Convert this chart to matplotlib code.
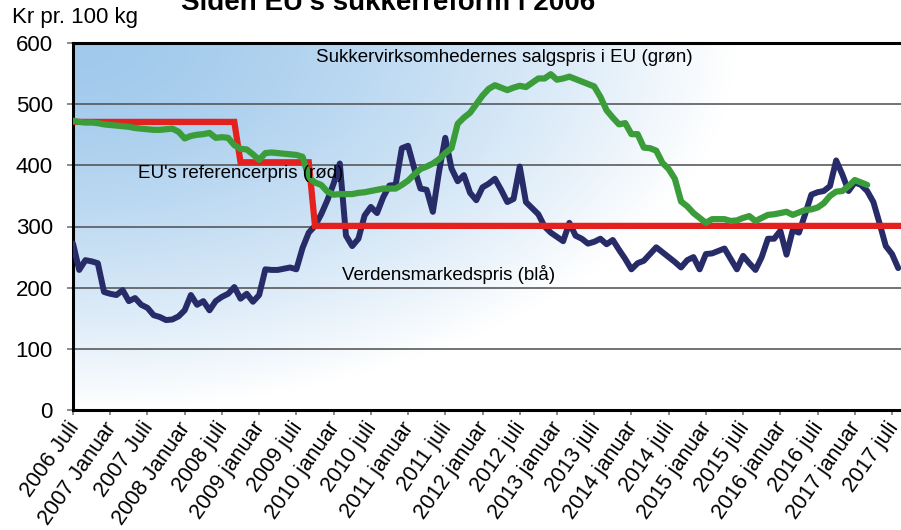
import numpy as np
import matplotlib
matplotlib.use("Agg")
import matplotlib.pyplot as plt
from matplotlib.colors import to_rgb
from matplotlib.transforms import ScaledTranslation

plt.rcParams['font.family'] = ['Liberation Sans', 'DejaVu Sans']

# Månedlige værdier, 2006 juli = måned 0
verdensmarked = [272, 229, 245, 243, 240, 193, 190, 188, 196, 178,
                 183, 172, 167, 155, 152, 147, 148, 153, 163, 188,
                 172, 178, 163, 178, 185, 190, 201, 182, 190, 177,
                 188, 230, 229, 229, 231, 233, 230, 265, 290, 301,
                 320, 343, 370, 403, 285, 268, 280, 318, 332, 322,
                 348, 367, 368, 428, 432, 395, 362, 360, 324, 390,
                 445, 395, 374, 384, 355, 343, 364, 370, 378, 360,
                 340, 345, 398, 340, 330, 320, 300, 290, 283, 276,
                 306, 285, 280, 272, 275, 280, 271, 278, 262, 247,
                 230, 240, 244, 255, 266, 258, 250, 242, 233, 245,
                 250, 230, 255, 256, 260, 264, 247, 230, 252, 240,
                 229, 250, 280, 280, 293, 254, 294, 290, 320, 352,
                 356, 358, 366, 408, 385, 358, 372, 368, 358, 340,
                 305, 268, 255, 232]

salgspris = [473, 471, 470, 470, 469, 467, 466, 465, 464, 463,
             461, 460, 459, 458, 458, 459, 460, 455, 444, 448,
             450, 451, 453, 445, 446, 445, 433, 427, 426, 418,
             409, 420, 421, 420, 419, 418, 417, 414, 380, 372,
             368, 357, 352, 353, 353, 353, 355, 356, 358, 360,
             362, 362, 362, 368, 375, 385, 394, 398, 403, 410,
             420, 428, 468, 478, 486, 500, 514, 525, 531, 527,
             523, 527, 530, 528, 535, 542, 542, 549, 540, 542,
             545, 541, 537, 533, 529, 512, 490, 478, 467, 469,
             451, 451, 429, 428, 424, 404, 394, 378, 341, 333,
             322, 314, 306, 312, 312, 312, 309, 310, 314, 317,
             309, 314, 319, 320, 322, 324, 319, 323, 327, 328,
             331, 338, 350, 357, 358, 366, 376, 372, 368]

referencepris = [471] * 27 + [405] * 12 + [301] * 95

tick_labels = ["2006 Juli", "2007 Januar", "2007 Juli", "2008 Januar", "2008 juli",
               "2009 januar", "2009 juli", "2010 januar", "2010 juli", "2011 januar",
               "2011 juli", "2012 januar", "2012 juli", "2013 januar", "2013 juli",
               "2014 januar", "2014 juli", "2015 januar", "2015 juli", "2016 januar",
               "2016 juli", "2017 januar", "2017 juli"]

fig = plt.figure(figsize=(9.01, 5.30), dpi=100)
ax = fig.add_axes([73 / 901, 1 - 410 / 530, 1 - 73 / 901, 367 / 530])

# baggrund med blå gradient fra øverste venstre hjørne
nx, ny = 300, 200
gx, gy = np.meshgrid(np.linspace(0, 1, nx), np.linspace(0, 1, ny))
t = np.clip(np.sqrt((gx / 0.80) ** 2 + (gy / 1.0) ** 2), 0, 1) ** 1.5
c0 = np.array(to_rgb("#a0c9ec"))
c1 = np.array(to_rgb("#ffffff"))
img = c0[None, None, :] * (1 - t[..., None]) + c1[None, None, :] * t[..., None]
ax.imshow(img, extent=[0, 1, 0, 1], transform=ax.transAxes, aspect='auto',
          zorder=0, origin='upper')

for v in range(100, 600, 100):
    ax.axhline(v, color="#4d4d4d", lw=1.1, zorder=1)

m_blue = np.arange(len(verdensmarked))
m_green = np.arange(len(salgspris))
m_red = np.arange(len(referencepris))

ax.plot(m_blue, verdensmarked, color="#272c68", lw=4.3, zorder=3,
        solid_joinstyle='round', solid_capstyle='round')
ax.plot(m_red, referencepris, color="#e3221f", lw=4.5, zorder=4,
        solid_joinstyle='miter')
ax.plot(m_green, salgspris, color="#3a9d3a", lw=4.5, zorder=5,
        solid_joinstyle='round', solid_capstyle='round')

ax.set_xlim(0, 133.45)
ax.set_ylim(0, 600)
ax.set_yticks(range(0, 700, 100))
ax.set_xticks(range(0, 6 * len(tick_labels), 6))
ax.set_xticklabels(tick_labels, rotation=55, ha='right', va='center',
                   rotation_mode='anchor', fontsize=15.5)
ax.tick_params(axis='y', labelsize=16, length=4.5, width=1.2, color="#777777", pad=10)
ax.tick_params(axis='x', length=3.6, width=1.2, color="#777777", pad=3)

# skub etiketterne lidt ned og til højre
offset = ScaledTranslation(2 / 100, -5 / 100, fig.dpi_scale_trans)
for lbl in ax.get_xticklabels():
    lbl.set_transform(lbl.get_transform() + offset)

for side in ['left', 'bottom', 'top']:
    ax.spines[side].set_linewidth(2.2)
    ax.spines[side].set_color("black")
ax.spines['right'].set_visible(False)

ax.text(39.2, 577, "Sukkervirksomhedernes salgspris i EU (grøn)", fontsize=13.5,
        va='center', ha='left', zorder=6)
ax.text(10.5, 386, "EU's referencerpris (rød)", fontsize=13.5,
        va='center', ha='left', zorder=6)
ax.text(43.4, 221, "Verdensmarkedspris (blå)", fontsize=13.5,
        va='center', ha='left', zorder=6)

fig.text(12 / 901, 1 - 17 / 530, "Kr pr. 100 kg", fontsize=16, va='center', ha='left')
fig.text(388 / 901, 1 - 10 / 530, "Siden EU's sukkerreform i 2006", fontsize=20,
         fontweight='bold', va='baseline', ha='center')

fig.savefig("out.png", dpi=100)
